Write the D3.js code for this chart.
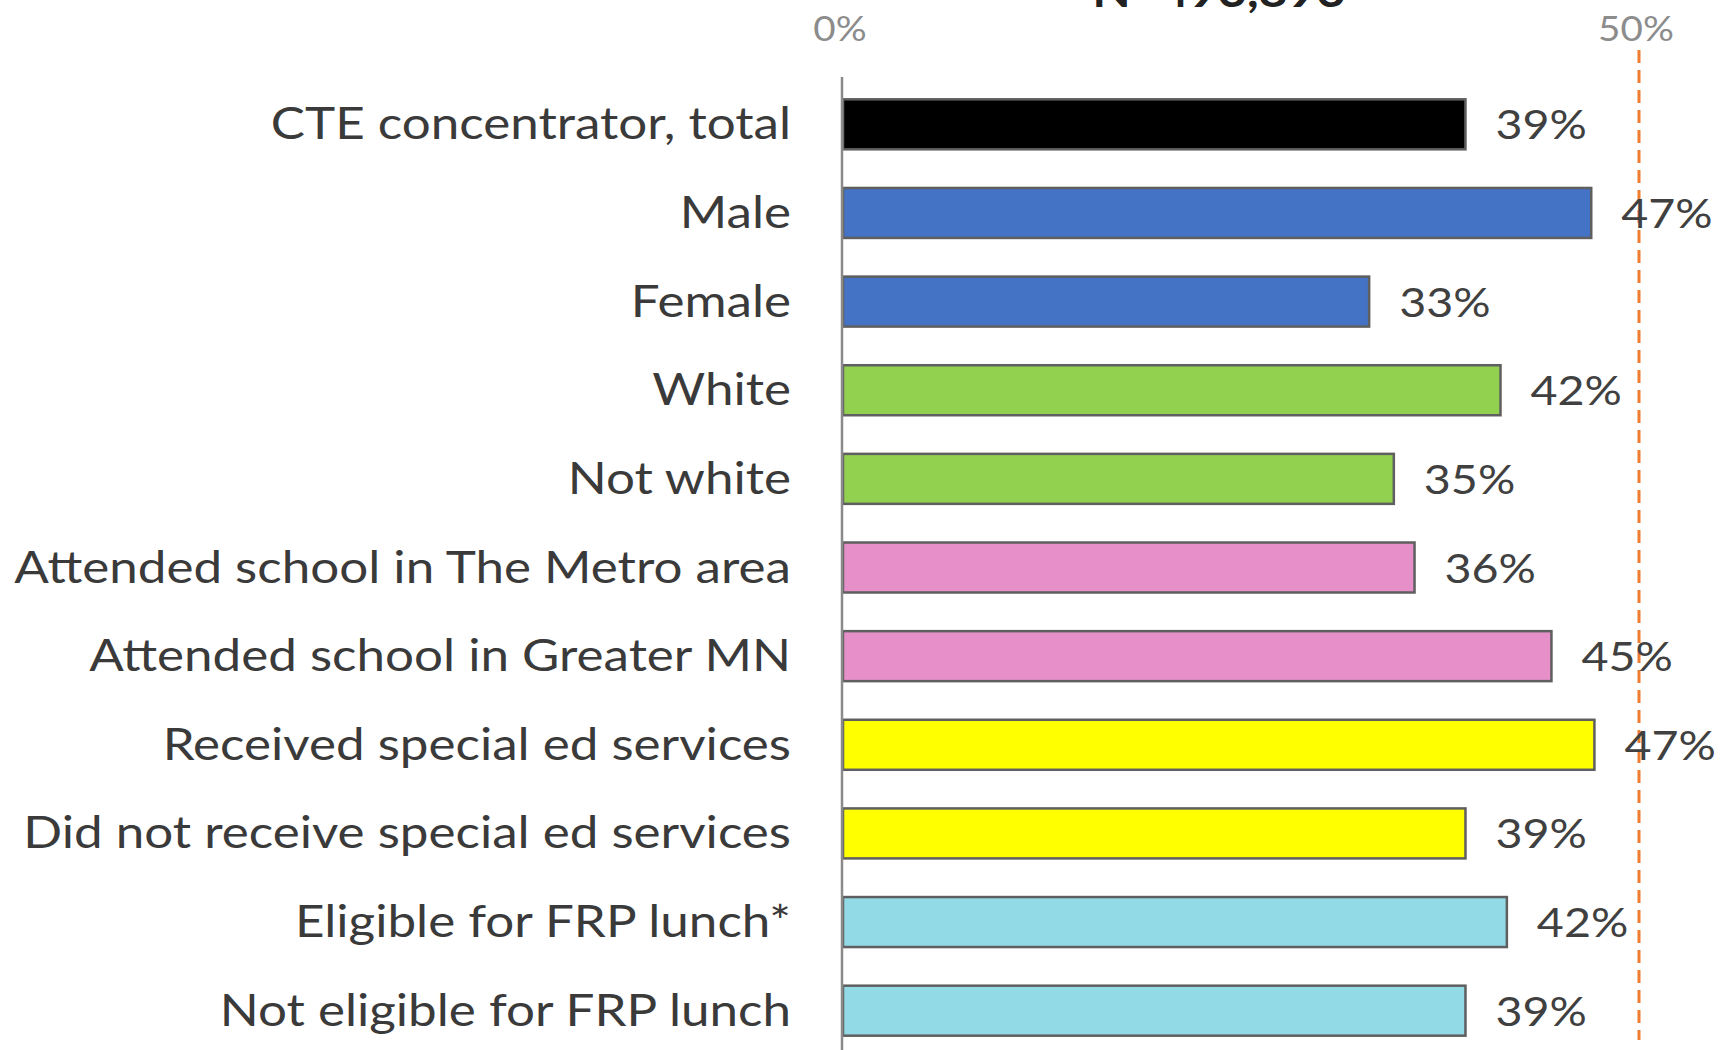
<!DOCTYPE html>
<html>
<head>
<meta charset="utf-8">
<script src="https://cdn.jsdelivr.net/npm/d3@7"></script>
<style>
  html, body { margin: 0; padding: 0; background: #fff; }
  svg { display: block; font-family: Lato, "Open Sans", sans-serif; }
</style>
</head>
<body>
<svg class="js-chart"></svg>
<script>
var categories = [
    "CTE concentrator, total",
    "Male",
    "Female",
    "White",
    "Not white",
    "Attended school in The Metro area",
    "Attended school in Greater MN",
    "Received special ed services",
    "Did not receive special ed services",
    "Eligible for FRP lunch*",
    "Not eligible for FRP lunch"
];
// bar lengths (labels show them rounded)
var values = [39.1, 47.0, 33.05, 41.3, 34.6, 35.9, 44.5, 47.2, 39.1, 41.7, 39.1];
var labels = ["39%", "47%", "33%", "42%", "35%", "36%", "45%", "47%", "39%", "42%", "39%"];
var groups = ["total", "gender", "gender", "race", "race", "region", "region", "sped", "sped", "frp", "frp"];
var tickValues = [0, 50];
var referenceLine = 50;
var title = "N=493,893";

var colors = {
    total: "#000000",
    gender: "#4472C4",
    race: "#92D050",
    region: "#E78FC9",
    sped: "#FFFF00",
    frp: "#92DAE6"
};

var width = 1720, height = 1050;
var svg = d3.select(".js-chart").attr("width", width).attr("height", height);

var x = d3.scaleLinear().domain([0, 50]).range([843, 1639]);
var y = d3.scaleBand().domain(categories).range([80, 1055])
    .paddingInner(0.436).paddingOuter(0.218);

// the source picture is stretched horizontally; measure and match it
var probe = svg.append("text").attr("font-size", 45).text(categories[5]);
var sx = 777 / probe.node().getComputedTextLength();
probe.remove();

// title, mostly cut off at the top
svg.append("text")
    .attr("transform", "translate(1219,7) scale(" + sx + ",1)")
    .attr("text-anchor", "middle")
    .attr("font-size", 44)
    .attr("font-weight", 700)
    .attr("fill", "#222")
    .text(title);

// axis tick labels
var axis = svg.append("g")
    .attr("transform", "translate(0,41)")
    .call(d3.axisTop(x).tickValues(tickValues).tickSize(0).tickFormat(function (d) { return d + "%"; }));
axis.select(".domain").remove();
axis.selectAll("text")
    .attr("y", 0)
    .attr("dy", 0)
    .attr("font-size", 34)
    .attr("font-family", "Lato, sans-serif")
    .attr("fill", "#8c8c8c")
    .attr("transform", "scale(" + sx + ",1)");
axis.selectAll(".tick").each(function (d) {
    d3.select(this).attr("transform", "translate(" + (x(d) - 3) + ",0)");
});

// reference line
svg.append("line")
    .attr("x1", x(referenceLine)).attr("x2", x(referenceLine))
    .attr("y1", 50).attr("y2", 1040)
    .attr("stroke", "#ED7D31")
    .attr("stroke-width", 3)
    .attr("stroke-dasharray", "13,7");

// bars
svg.selectAll(".bar").data(values)
    .enter().append("rect")
        .attr("class", "bar")
        .attr("x", x(0))
        .attr("y", function (d, i) { return y(categories[i]); })
        .attr("width", function (d) { return x(d) - x(0); })
        .attr("height", y.bandwidth())
        .attr("fill", function (d, i) { return colors[groups[i]]; })
        .attr("stroke", "#5f5f5f")
        .attr("stroke-width", 2.5);

// vertical axis line
svg.append("line")
    .attr("x1", 842).attr("x2", 842)
    .attr("y1", 77).attr("y2", height)
    .attr("stroke", "#8a8a8a")
    .attr("stroke-width", 2.5);

// category labels
svg.selectAll(".cat").data(categories)
    .enter().append("text")
        .attr("class", "cat")
        .attr("transform", function (d) {
            return "translate(791," + (y(d) + y.bandwidth() / 2 + 15) + ") scale(" + sx + ",1)";
        })
        .attr("text-anchor", "end")
        .attr("font-size", 45)
        .attr("fill", "#3a3a3a")
        .text(function (d) { return d; });

// value labels
svg.selectAll(".val").data(values)
    .enter().append("text")
        .attr("class", "val")
        .attr("transform", function (d, i) {
            return "translate(" + (x(d) + 30) + "," + (y(categories[i]) + y.bandwidth() / 2 + 15) + ") scale(" + sx + ",1)";
        })
        .attr("font-size", 41)
        .attr("fill", "#404040")
        .text(function (d, i) { return labels[i]; });
</script>
</body>
</html>
